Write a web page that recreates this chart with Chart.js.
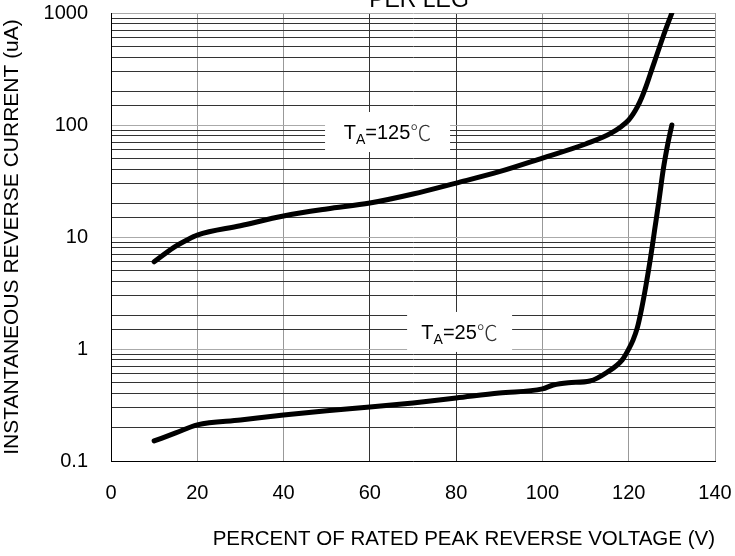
<!DOCTYPE html>
<html>
<head>
<meta charset="utf-8">
<script src="https://cdn.jsdelivr.net/npm/chart.js@4.4.1/dist/chart.umd.min.js"></script>
<style>
  body { margin: 0; background: #fff; }
  canvas { display: block; }
</style>
</head>
<body>
<canvas id="chart" width="735" height="556"></canvas>
<script>
// 데이터
const x125 = [10, 14.4, 17.6, 20, 30, 40, 50, 60, 70, 80, 90, 100, 110, 116, 120, 121, 122, 123, 124, 125, 126, 127, 128, 129, 130];
const y125 = [6.0, 8.0, 9.4, 10.4, 12.6, 15.4, 17.8, 20.1, 24.2, 30.3, 38.3, 50.7, 67.7, 84.9, 111, 125, 145, 175, 220, 285, 370, 480, 620, 790, 1000];

const x25 = [10, 15, 20, 30, 40, 50, 60, 70, 80, 90, 100, 102.5, 106, 111, 115, 118.5, 120, 121, 122, 123, 124, 125, 126, 127, 128, 129, 130];
const y25 = [0.151, 0.178, 0.21, 0.232, 0.257, 0.281, 0.303, 0.33, 0.365, 0.405, 0.44, 0.477, 0.5, 0.518, 0.62, 0.80, 1.0, 1.2, 1.55, 2.3, 3.7, 6.3, 11.5, 21, 40, 66, 100];

const yTicks = [0.1, 1, 10, 100, 1000];
const yTickLabels = ['0.1', '1', '10', '100', '1000'];

// 라벨 (온도)
const noteTemp = ['125', '25'];
const noteX = [64.1, 80.8];
const noteY = [86.6, 1.42];

const FONT = '"Liberation Sans", Arial, sans-serif';

function toPoints(xs, ys) {
    return xs.map((x, i) => ({ x: x, y: ys[i] }));
}

function isDecade(v) {
    const l = Math.log10(v);
    return Math.abs(l - Math.round(l)) < 1e-6;
}

function noPad(scale) {
    scale.paddingTop = 0;
    scale.paddingBottom = 0;
    scale.paddingLeft = 0;
    scale.paddingRight = 0;
}

// 흰 박스 + T_A 라벨, 제목
const notePlugin = {
    id: 'notes',
    beforeDatasetsDraw(chart) {
        const ctx = chart.ctx;
        const xs = chart.scales.x;
        const ys = chart.scales.y;
        const boxW = [125, 105];
        for (let i = 0; i < noteTemp.length; i++) {
            const cx = xs.getPixelForValue(noteX[i]);
            const cy = ys.getPixelForValue(noteY[i]);
            ctx.save();
            ctx.fillStyle = '#fff';
            ctx.fillRect(cx - boxW[i] / 2, cy - 20, boxW[i], 40);

            ctx.fillStyle = '#000';
            ctx.textBaseline = 'alphabetic';
            ctx.textAlign = 'left';
            const big = '20px ' + FONT;
            const small = '14px ' + FONT;
            const deg = '300 21px "Noto Sans CJK SC", sans-serif';
            ctx.font = big;
            const wT = ctx.measureText('T').width;
            const wNum = ctx.measureText('=' + noteTemp[i]).width;
            ctx.font = small;
            const wA = ctx.measureText('A').width;
            ctx.font = deg;
            const wD = ctx.measureText('℃').width;
            let x = cx - (wT + wA + wNum + wD) / 2;
            const base = cy + 7;
            ctx.font = big;
            ctx.fillText('T', x, base);
            x += wT;
            ctx.font = small;
            ctx.fillText('A', x, base + 5);
            x += wA;
            ctx.font = big;
            ctx.fillText('=' + noteTemp[i], x, base);
            x += wNum;
            ctx.font = deg;
            ctx.fillStyle = '#333';
            ctx.fillText('℃', x, base + 1);
            ctx.restore();
        }
    },
    afterDraw(chart) {
        const ctx = chart.ctx;
        const area = chart.chartArea;
        ctx.save();
        ctx.font = '23px ' + FONT;
        ctx.fillStyle = '#000';
        ctx.textAlign = 'center';
        ctx.textBaseline = 'alphabetic';
        ctx.fillText('PER LEG', (area.left + area.right) / 2 + 6, 7);
        ctx.restore();
    }
};

new Chart(document.getElementById('chart'), {
    type: 'scatter',
    data: {
        datasets: [{
                label: 'TA=125',
                data: toPoints(x125, y125),
                showLine: true,
                borderColor: '#000',
                borderWidth: 5,
                borderCapStyle: 'round',
                cubicInterpolationMode: 'monotone',
                pointRadius: 0
            },
            {
                label: 'TA=25',
                data: toPoints(x25, y25),
                showLine: true,
                borderColor: '#000',
                borderWidth: 5,
                borderCapStyle: 'round',
                cubicInterpolationMode: 'monotone',
                pointRadius: 0
            }
        ]
    },
    options: {
        responsive: false,
        animation: false,
        layout: { padding: { top: 13, right: 20, left: 0, bottom: 0 } },
        plugins: {
            legend: { display: false },
            tooltip: { enabled: false }
        },
        scales: {
            x: {
                type: 'linear',
                min: 0,
                max: 140,
                afterFit(scale) { scale.height = 95; noPad(scale); },
                ticks: {
                    stepSize: 20,
                    padding: 20,
                    color: '#000',
                    font: { family: FONT, size: 20 }
                },
                grid: {
                    drawTicks: false,
                    color: (c) => (c.tick && (c.tick.value === 60 || c.tick.value === 80)) ? '#333' : '#999'
                },
                border: { color: '#000', width: 1 },
                title: {
                    display: true,
                    text: 'PERCENT OF RATED PEAK REVERSE VOLTAGE (V)',
                    align: 'end',
                    color: '#000',
                    font: { family: FONT, size: 20.5 },
                    padding: { top: 0, bottom: 4 }
                }
            },
            y: {
                type: 'logarithmic',
                min: 0.1,
                max: 1000,
                afterFit(scale) { scale.width = 111; noPad(scale); },
                ticks: {
                    autoSkip: false,
                    padding: 23,
                    color: '#000',
                    font: { family: FONT, size: 20 },
                    callback: function (v) {
                        for (let i = 0; i < yTicks.length; i++) {
                            if (Math.abs(v - yTicks[i]) < 1e-9 * yTicks[i] + 1e-12) return yTickLabels[i];
                        }
                        return '';
                    }
                },
                grid: {
                    drawTicks: false,
                    color: (c) => (c.tick && isDecade(c.tick.value)) ? '#aaa' : '#333'
                },
                border: { color: '#000', width: 1 },
                title: {
                    display: true,
                    text: 'INSTANTANEOUS REVERSE CURRENT (uA)',
                    color: '#000',
                    font: { family: FONT, size: 21 },
                    padding: { top: 0, bottom: 0 }
                }
            }
        }
    },
    plugins: [notePlugin]
});
</script>
</body>
</html>
